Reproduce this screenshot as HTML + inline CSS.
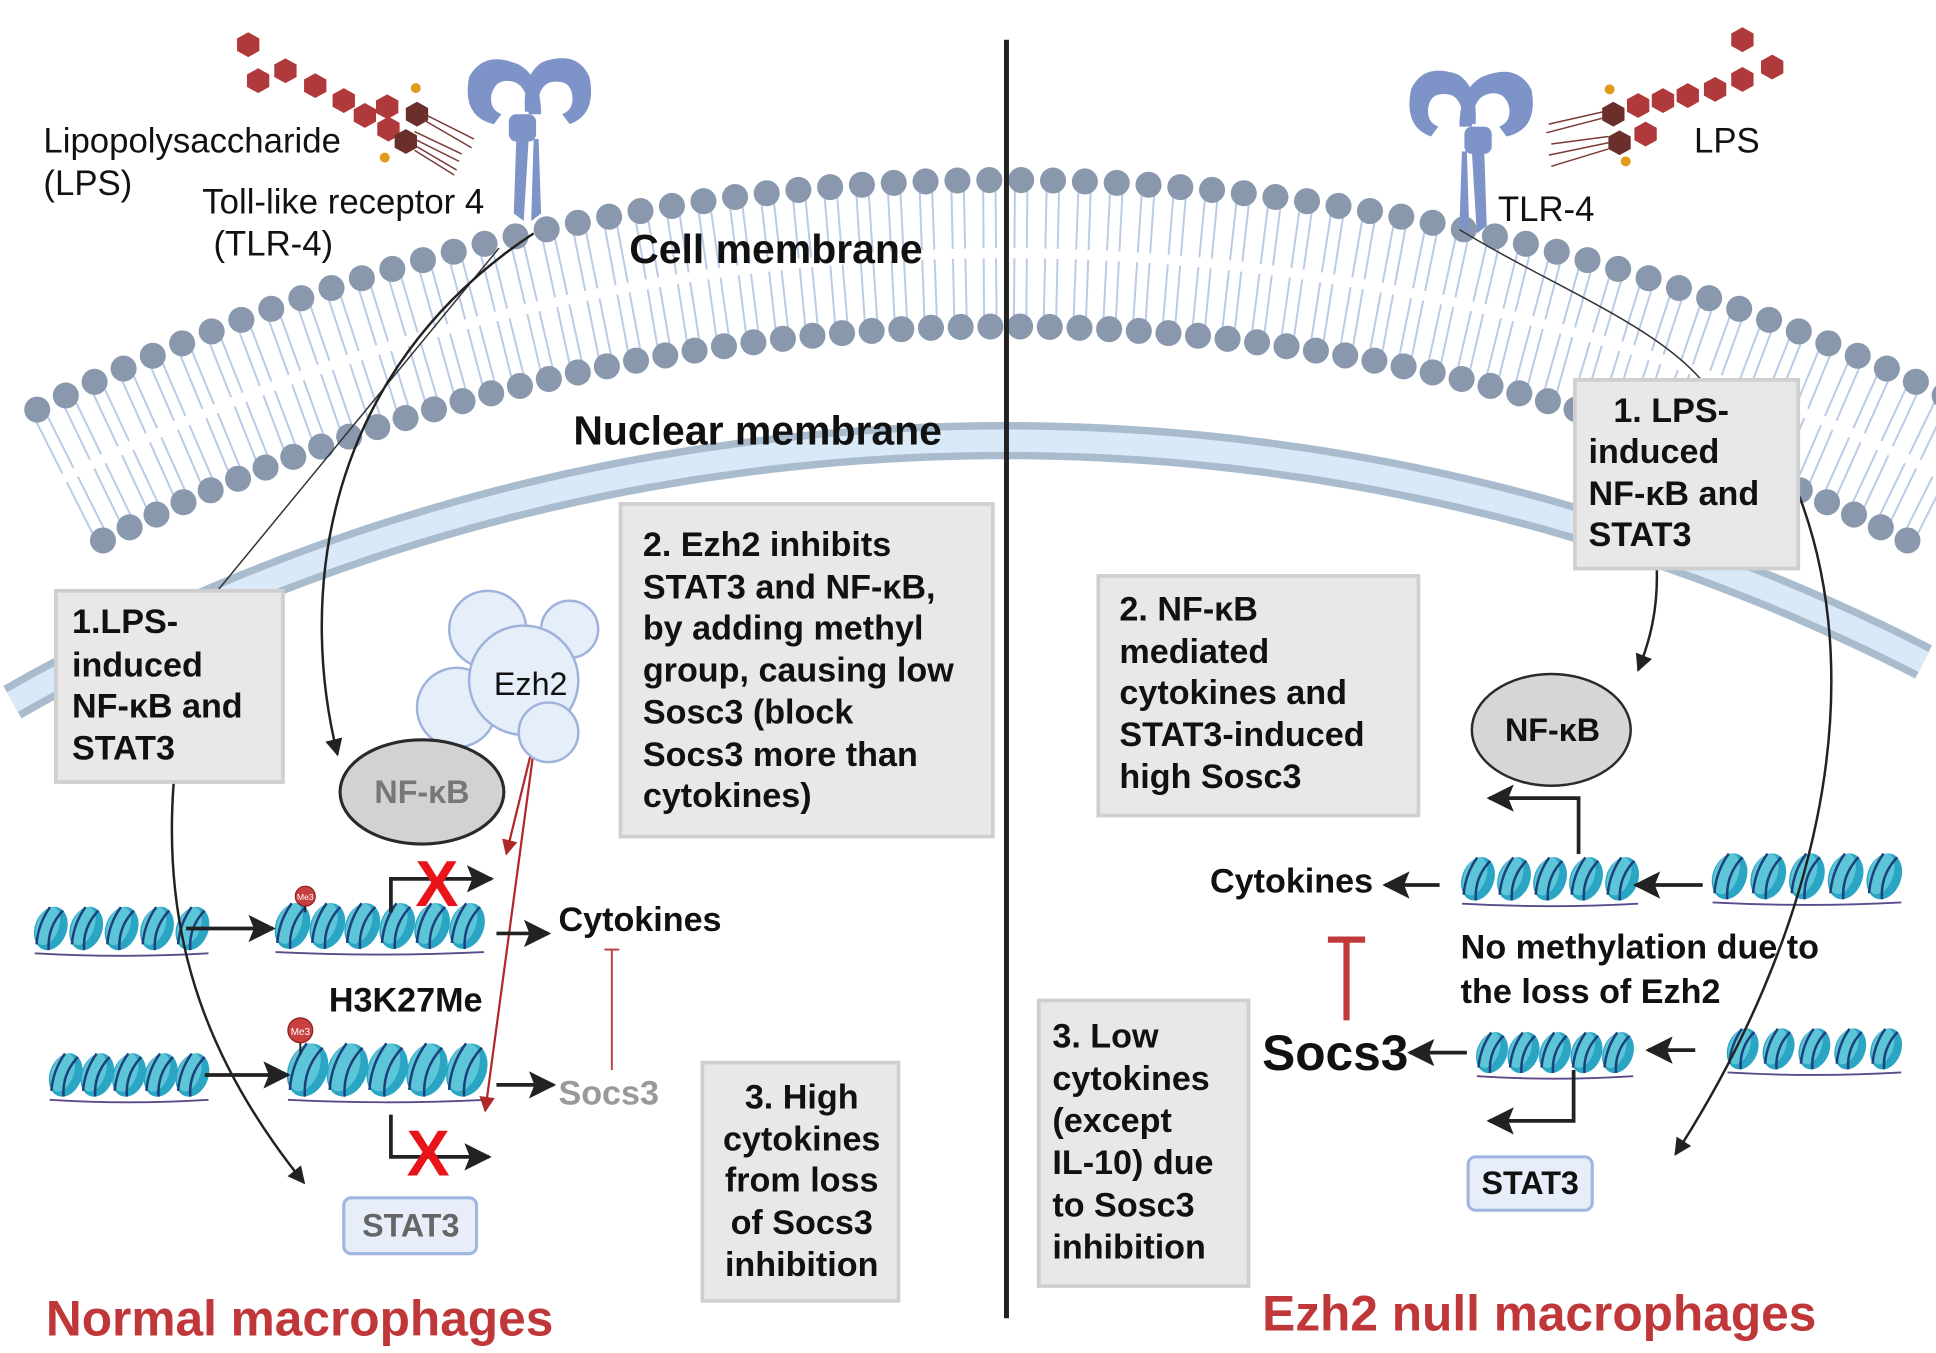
<!DOCTYPE html>
<html><head><meta charset="utf-8"><style>
html,body{margin:0;padding:0;background:#fff;}
svg{display:block;}
text{font-family:"Liberation Sans",sans-serif;}
.b{font-weight:bold;font-size:27.5px;fill:#111;}
.n{font-size:28px;fill:#111;}
</style></head><body>
<svg id="s" width="1936" height="1353" viewBox="0 0 1560 1090" preserveAspectRatio="none" xmlns="http://www.w3.org/2000/svg">
<defs>
<marker id="ah" viewBox="0 0 10 10" refX="9" refY="5" markerWidth="7" markerHeight="7" orient="auto"><path d="M0,0L10,5L0,10z" fill="#222"/></marker>
<marker id="ar" viewBox="0 0 10 10" refX="9" refY="5" markerWidth="7" markerHeight="7" orient="auto"><path d="M0,0L10,5L0,10z" fill="#b02828"/></marker>
<marker id="big" viewBox="0 0 10 10" refX="9" refY="5" markerWidth="22" markerHeight="22" orient="auto" markerUnits="userSpaceOnUse"><path d="M0,0L10,5L0,10L2,5z" fill="#222"/></marker>
</defs>
<g id="mem"></g>
<g id="nuc"></g>
<line x1="811" y1="32" x2="811" y2="1062" stroke="#222" stroke-width="4"/>
<g id="dna"></g>

<g fill="#b0393b">
<polygon points="200,26 209,31 209,41 200,46 191,41 191,31"/>
<polygon points="230,47 239,52 239,62 230,67 221,62 221,52"/>
<polygon points="208,55 217,60 217,70 208,75 199,70 199,60"/>
<polygon points="254,59 263,64 263,74 254,79 245,74 245,64"/>
<polygon points="277,71 286,76 286,86 277,91 268,86 268,76"/>
<polygon points="294,83 303,88 303,98 294,103 285,98 285,88"/>
<polygon points="312,76 321,81 321,91 312,96 303,91 303,81"/>
<polygon points="313,94 322,99 322,109 313,114 304,109 304,99"/>
</g>
<g fill="#6a2e2b"><polygon points="336,82 345,87 345,97 336,102 327,97 327,87"/><polygon points="327,104 336,109 336,119 327,124 318,119 318,109"/></g>
<g stroke="#7a3b36" stroke-width="1.2" fill="none">
<path d="M342,92 l40,20 M342,97 l38,22 M334,112 l36,18 M334,117 l34,20 M334,121 l32,20 M334,106 l38,18"/></g>
<circle cx="335" cy="71" r="4" fill="#e09a1c"/><circle cx="310" cy="127" r="4" fill="#e09a1c"/>
<g fill="#7e93c8">
<path d="M378,62 q12,-22 40,-10 q18,10 18,40 l-10,0 q0,-22 -12,-26 q-14,-4 -18,10 q-2,12 8,16 l-6,8 q-26,-6 -20,-38z"/>
<path d="M475,62 q-10,-22 -38,-12 q-16,10 -14,40 l10,0 q0,-22 12,-24 q14,-2 16,10 q2,12 -8,16 l6,8 q22,-8 16,-38z"/>
<rect x="410" y="92" width="22" height="22" rx="6"/>
<path d="M416,112 l-2,60 l8,6 l4,-66z M430,112 l-2,66 l8,-6 l-2,-60z"/>
</g>
<g fill="#b0393b">
<polygon points="1404,22 1413,27 1413,37 1404,42 1395,37 1395,27"/>
<polygon points="1428,44 1437,49 1437,59 1428,64 1419,59 1419,49"/>
<polygon points="1404,54 1413,59 1413,69 1404,74 1395,69 1395,59"/>
<polygon points="1382,62 1391,67 1391,77 1382,82 1373,77 1373,67"/>
<polygon points="1360,67 1369,72 1369,82 1360,87 1351,82 1351,72"/>
<polygon points="1340,71 1349,76 1349,86 1340,91 1331,86 1331,76"/>
<polygon points="1320,75 1329,80 1329,90 1320,95 1311,90 1311,80"/>
<polygon points="1326,98 1335,103 1335,113 1326,118 1317,113 1317,103"/>
</g>
<g fill="#6a2e2b"><polygon points="1300,82 1309,87 1309,97 1300,102 1291,97 1291,87"/><polygon points="1305,105 1314,110 1314,120 1305,125 1296,120 1296,110"/></g>
<g stroke="#7a3b36" stroke-width="1.2" fill="none"><path d="M1292,90 l-44,10 M1292,95 l-46,12 M1296,110 l-46,6 M1296,115 l-48,10 M1296,120 l-46,14"/></g>
<circle cx="1297" cy="72" r="4" fill="#e09a1c"/><circle cx="1310" cy="130" r="4" fill="#e09a1c"/>
<g fill="#7e93c8" transform="translate(1612,10) scale(-1,1)">
<path d="M378,62 q12,-22 40,-10 q18,10 18,40 l-10,0 q0,-22 -12,-26 q-14,-4 -18,10 q-2,12 8,16 l-6,8 q-26,-6 -20,-38z"/>
<path d="M475,62 q-10,-22 -38,-12 q-16,10 -14,40 l10,0 q0,-22 12,-24 q14,-2 16,10 q2,12 -8,16 l6,8 q22,-8 16,-38z"/>
<rect x="410" y="92" width="22" height="22" rx="6"/>
<path d="M416,112 l-2,60 l8,6 l4,-66z M430,112 l-2,66 l8,-6 l-2,-60z"/>
</g>

<text class="n" x="35" y="123">Lipopolysaccharide</text>
<text class="n" x="35" y="157">(LPS)</text>
<text class="n" x="163" y="172">Toll-like receptor 4</text>
<text class="n" x="172" y="206">(TLR-4)</text>
<text class="b" x="507" y="212" style="font-size:33px">Cell membrane</text>
<text class="b" x="462" y="358" style="font-size:33px">Nuclear membrane</text>
<text class="n" x="1365" y="123">LPS</text>
<text class="n" x="1207" y="178">TLR-4</text>

<path d="M402,200 L176,475" stroke="#333" stroke-width="1.2" fill="none"/>
<path d="M430,188 C260,300 240,480 272,608" stroke="#222" stroke-width="2" fill="none" marker-end="url(#ah)"/>
<path d="M140,630 C130,760 170,860 245,953" stroke="#222" stroke-width="2" fill="none" marker-end="url(#ah)"/>
<path d="M432,590 L408,688" stroke="#b02828" stroke-width="1.8" fill="none" marker-end="url(#ar)"/>
<path d="M432,590 L391,895" stroke="#b02828" stroke-width="1.8" fill="none" marker-end="url(#ar)"/>
<path d="M1176,185 C1250,230 1330,260 1370,305" stroke="#333" stroke-width="1.2" fill="none"/>
<path d="M1335,458 C1336,490 1330,515 1320,540" stroke="#222" stroke-width="2" fill="none" marker-end="url(#ah)"/>
<path d="M1450,400 C1510,560 1460,760 1350,930" stroke="#222" stroke-width="2" fill="none" marker-end="url(#ah)"/>

<g fill="#e8e8e8" stroke="#cfcfcf" stroke-width="3">
<rect x="45" y="476" width="183" height="154"/>
<rect x="500" y="406" width="300" height="268"/>
<rect x="566" y="856" width="158" height="192"/>
<rect x="1269" y="306" width="180" height="152"/>
<rect x="885" y="464" width="258" height="193"/>
<rect x="837" y="806" width="169" height="230"/>
</g>
<text class="b" x="58" y="510">1.LPS-</text><text class="b" x="58" y="545">induced</text><text class="b" x="58" y="578">NF-κB and</text><text class="b" x="58" y="612">STAT3</text>
<text class="b" x="518" y="448">2. Ezh2 inhibits</text><text class="b" x="518" y="482">STAT3 and NF-κB,</text><text class="b" x="518" y="515">by adding methyl</text><text class="b" x="518" y="549">group, causing low</text><text class="b" x="518" y="583">Sosc3 (block</text><text class="b" x="518" y="617">Socs3 more than</text><text class="b" x="518" y="650">cytokines)</text>
<g text-anchor="middle"><text class="b" x="646" y="893">3. High</text><text class="b" x="646" y="927">cytokines</text><text class="b" x="646" y="960">from loss</text><text class="b" x="646" y="994">of Socs3</text><text class="b" x="646" y="1028">inhibition</text></g>
<text class="b" x="1300" y="340">1.  LPS-</text><text class="b" x="1280" y="373">induced</text><text class="b" x="1280" y="407">NF-κB and</text><text class="b" x="1280" y="440">STAT3</text>
<text class="b" x="902" y="500">2. NF-κB</text><text class="b" x="902" y="534">mediated</text><text class="b" x="902" y="567">cytokines and</text><text class="b" x="902" y="601">STAT3-induced</text><text class="b" x="902" y="635">high Sosc3</text>
<text class="b" x="848" y="844">3. Low</text><text class="b" x="848" y="878">cytokines</text><text class="b" x="848" y="912">(except</text><text class="b" x="848" y="946">IL-10) due</text><text class="b" x="848" y="980">to Sosc3</text><text class="b" x="848" y="1014">inhibition</text>

<g fill="#e6eefa" stroke="#9fb2dd" stroke-width="2">
<circle cx="393" cy="507" r="31"/><circle cx="459" cy="507" r="23"/><circle cx="368" cy="570" r="32"/><circle cx="422" cy="548" r="44"/><circle cx="442" cy="590" r="24"/>
</g>
<text class="n" x="398" y="560" style="font-size:26px">Ezh2</text>

<ellipse cx="340" cy="638" rx="66" ry="42" fill="#d2d2d2" stroke="#2a2a2a" stroke-width="2.5"/>
<text x="340" y="647" text-anchor="middle" style="font-weight:bold;font-size:26px;fill:#777">NF-κB</text>
<ellipse cx="1250" cy="588" rx="64" ry="45" fill="#d6d6d6" stroke="#2a2a2a" stroke-width="2"/>
<text x="1251" y="597" text-anchor="middle" class="b" style="font-size:26px">NF-κB</text>

<g stroke="#222" stroke-width="3" fill="none">
<line x1="150" y1="748" x2="220" y2="748" marker-end="url(#big)"/>
<line x1="165" y1="866" x2="232" y2="866" marker-end="url(#big)"/>
<path d="M315,735 V708 H396" marker-end="url(#big)"/>
<path d="M315,898 V932 H394" marker-end="url(#big)"/>
<line x1="400" y1="752" x2="442" y2="752" marker-end="url(#big)"/>
<line x1="400" y1="874" x2="446" y2="874" marker-end="url(#big)"/>
<line x1="1160" y1="713" x2="1116" y2="713" marker-end="url(#big)"/>
<line x1="1372" y1="713" x2="1318" y2="713" marker-end="url(#big)"/>
<path d="M1272,688 V643 H1200" marker-end="url(#big)"/>
<line x1="1182" y1="848" x2="1136" y2="848" marker-end="url(#big)"/>
<line x1="1366" y1="846" x2="1328" y2="846" marker-end="url(#big)"/>
<path d="M1268,862 V903 H1200" marker-end="url(#big)"/>
</g>
<line x1="246" y1="722" x2="246" y2="735" stroke="#222" stroke-width="1.5"/><circle cx="246" cy="722" r="8" fill="#c94040" stroke="#8a2020"/><text x="246" y="725" font-size="7" fill="#fff" text-anchor="middle">Me3</text>
<line x1="242" y1="832" x2="242" y2="850" stroke="#222" stroke-width="1.5"/><circle cx="242" cy="830" r="10" fill="#c94040" stroke="#8a2020"/><text x="242" y="834" font-size="8" fill="#fff" text-anchor="middle">Me3</text>
<text x="352" y="730" text-anchor="middle" style="font-weight:bold;font-size:52px;fill:#e8141a">X</text>
<text x="345" y="947" text-anchor="middle" style="font-weight:bold;font-size:52px;fill:#e8141a">X</text>

<text class="b" x="450" y="750">Cytokines</text>
<text x="450" y="890" style="font-weight:bold;font-size:27.5px;fill:#999">Socs3</text>
<text class="b" x="265" y="815">H3K27Me</text>
<path d="M487,765 H499 M493,765 V862" stroke="#c0393b" stroke-width="1.5"/>
<rect x="277" y="965" width="107" height="45" rx="6" fill="#e7eef9" stroke="#9fb6e0" stroke-width="2.5"/>
<text x="331" y="996" text-anchor="middle" style="font-weight:bold;font-size:26px;fill:#666">STAT3</text>
<rect x="1183" y="932" width="100" height="43" rx="6" fill="#e7eef9" stroke="#9fb6e0" stroke-width="2.5"/>
<text x="1233" y="962" text-anchor="middle" class="b" style="font-size:26px">STAT3</text>

<text class="b" x="975" y="719">Cytokines</text>
<text class="b" x="1177" y="772">No methylation due to</text>
<text class="b" x="1177" y="808">the loss of Ezh2</text>
<text x="1017" y="862" style="font-weight:bold;font-size:40px;fill:#111">Socs3</text>
<path d="M1070,757 H1100 M1085,757 V822" stroke="#c0393b" stroke-width="5"/>

<text x="37" y="1076" style="font-weight:bold;font-size:40px;fill:#c0373a">Normal macrophages</text>
<text x="1017" y="1072" style="font-weight:bold;font-size:40px;fill:#c0373a">Ezh2 null macrophages</text>
</svg>
<script>
var NS="http://www.w3.org/2000/svg";
function el(p,t,a){var e=document.createElementNS(NS,t);for(var k in a)e.setAttribute(k,a[k]);p.appendChild(e);return e;}
var nuc=document.getElementById('nuc');
var cx=810,R=1625,cy=355+R;
var d="";
for(var x=10;x<=1550;x+=10){var y=cy-Math.sqrt(R*R-(x-cx)*(x-cx));d+=(x==10?"M":"L")+x+","+y.toFixed(1);}
el(nuc,'path',{d:d,stroke:'#a9bccd',"stroke-width":30,fill:'none'});
el(nuc,'path',{d:d,stroke:'#d9e9f7',"stroke-width":18,fill:'none'});
var mem=document.getElementById('mem');
var Ro=1737,Ri=1619,mcy=145+Ro;
var a0=Math.asin(780/Ro);
var n=Math.round(2*a0*Ro/25.5);
for(var i=0;i<=n;i++){
 var t=-a0+2*a0*i/n;
 var ox=cx+Ro*Math.sin(t),oy=mcy-Ro*Math.cos(t);
 var ix=cx+Ri*Math.sin(t),iy=mcy-Ri*Math.cos(t);
 var s=Math.sin(t),c=Math.cos(t);
 for(var k=-1;k<=1;k+=2){
  var dx=k*5*c,dy=k*5*s;
  var mx1=cx+(Ro-55)*s,my1=mcy-(Ro-55)*c, mx2=cx+(Ri+55)*s,my2=mcy-(Ri+55)*c;
  el(mem,'line',{x1:ox+dx,y1:oy+dy,x2:mx1+dx,y2:my1+dy,stroke:'#b9cbe6',"stroke-width":1.6});
  el(mem,'line',{x1:ix+dx,y1:iy+dy,x2:mx2+dx,y2:my2+dy,stroke:'#b9cbe6',"stroke-width":1.6});
 }
}
for(var i=0;i<=n;i++){
 var t=-a0+2*a0*i/n;
 if(Math.abs(cx+Ro*Math.sin(t)-811)<6) continue;
 el(mem,'circle',{cx:cx+Ro*Math.sin(t),cy:mcy-Ro*Math.cos(t),r:10.5,fill:'#8998ad'});
 el(mem,'circle',{cx:cx+Ri*Math.sin(t),cy:mcy-Ri*Math.cos(t),r:10.5,fill:'#8998ad'});
}
var dna=document.getElementById('dna');
function row(x0,x1,y,h){
 var w=h*0.72,cnt=Math.round((x1-x0)/(w*1.05));var step=(x1-x0-w)/(cnt-1);
 el(dna,'path',{d:"M"+x0+","+(y+h/2+2)+" Q"+((x0+x1)/2)+","+(y+h/2+6)+" "+x1+","+(y+h/2+2),stroke:'#5c4a8a',"stroke-width":1.5,fill:'none'});
 for(var i=0;i<cnt;i++){
  var xc=x0+w/2+i*step;
  var g=el(dna,'g',{transform:"translate("+xc+","+y+") rotate(20)"});
  el(g,'ellipse',{cx:0,cy:0,rx:w/2,ry:h/2,fill:'#2aa6c4'});
  el(g,'ellipse',{cx:-3,cy:-1,rx:w/2-4,ry:h/2-2,fill:'#5cc6d8'});
  el(g,'path',{d:"M"+(-w/4)+","+(-h/2+2)+" Q"+(-w/2+2)+",0 "+(-w/4)+","+(h/2-2)+" M"+(w/6)+","+(-h/2+1)+" Q"+(-w/8)+",0 "+(w/6)+","+(h/2-1),stroke:'#1d3f7a',"stroke-width":2,fill:'none'});
 }
}
row(28,168,748,36);row(222,390,746,38);row(40,168,866,36);row(232,392,862,44);
row(1178,1320,708,36);row(1380,1532,706,38);row(1190,1316,848,34);row(1392,1532,845,34);
</script>
</body></html>
